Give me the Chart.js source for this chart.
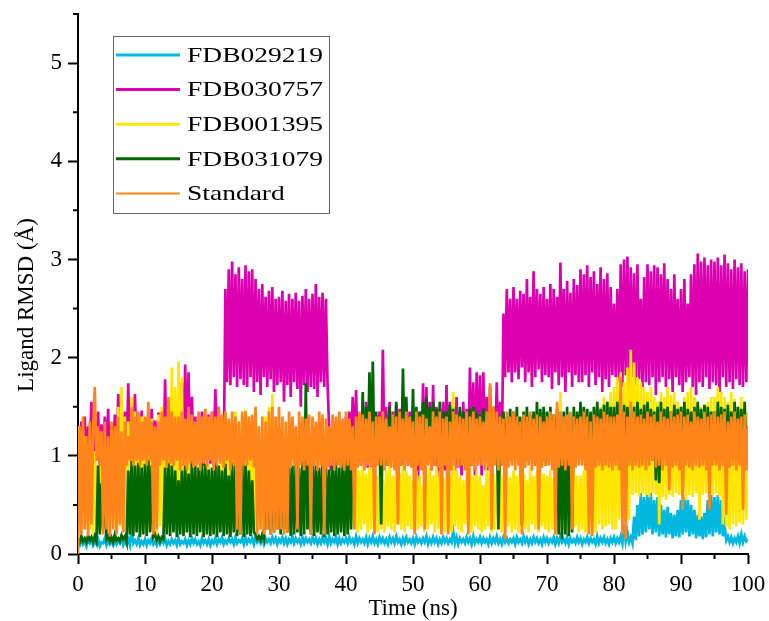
<!DOCTYPE html>
<html>
<head>
<meta charset="utf-8">
<script src="https://cdn.jsdelivr.net/npm/chart.js@4.4.0/dist/chart.umd.min.js"></script>
<style>
  html, body { margin: 0; padding: 0; background: #fff; }
  #wrap { width: 769px; height: 621px; }
</style>
</head>
<body>
<div id="wrap"><canvas id="rmsd" width="769" height="621"></canvas></div>
<script>
const fdb029219 = [
  0.12,0.09,0.15,0.10,0.13,0.08,0.14,0.11,0.16,0.09,0.13,0.10,0.15,0.08,0.12,0.11,0.16,0.09,0.14,0.10,
  0.13,0.09,0.15,0.10,0.14,0.11,0.16,0.09,0.13,0.10,0.15,0.09,0.25,0.11,0.14,0.10,0.16,0.09,0.13,0.10,
  0.15,0.09,0.14,0.11,0.16,0.10,0.13,0.09,0.15,0.10,0.14,0.11,0.16,0.09,0.13,0.10,0.15,0.11,0.14,0.09,
  0.16,0.10,0.13,0.11,0.15,0.09,0.14,0.10,0.16,0.11,0.15,0.10,0.13,0.09,0.16,0.11,0.14,0.10,0.15,0.09,
  0.14,0.11,0.16,0.10,0.15,0.12,0.17,0.10,0.14,0.11,0.16,0.12,0.15,0.10,0.17,0.11,0.14,0.12,0.16,0.10,
  0.17,0.11,0.15,0.12,0.16,0.10,0.18,0.12,0.15,0.11,0.17,0.10,0.16,0.12,0.15,0.11,0.17,0.12,0.16,0.10,
  0.15,0.12,0.17,0.11,0.16,0.10,0.15,0.12,0.18,0.11,0.16,0.12,0.15,0.10,0.17,0.11,0.16,0.12,0.15,0.11,
  0.17,0.12,0.16,0.10,0.15,0.11,0.17,0.12,0.16,0.10,0.18,0.11,0.15,0.12,0.17,0.10,0.16,0.11,0.15,0.12,
  0.16,0.11,0.17,0.12,0.15,0.10,0.18,0.11,0.16,0.12,0.15,0.11,0.17,0.10,0.16,0.12,0.18,0.11,0.15,0.10,
  0.17,0.12,0.16,0.11,0.15,0.10,0.17,0.12,0.16,0.11,0.18,0.12,0.15,0.10,0.16,0.11,0.17,0.12,0.15,0.11,
  0.16,0.10,0.17,0.12,0.15,0.11,0.16,0.12,0.18,0.10,0.15,0.11,0.17,0.12,0.16,0.10,0.15,0.11,0.17,0.12,
  0.16,0.11,0.15,0.12,0.23,0.11,0.17,0.10,0.16,0.12,0.15,0.11,0.17,0.12,0.16,0.10,0.18,0.11,0.15,0.12,
  0.17,0.11,0.16,0.12,0.15,0.10,0.17,0.11,0.16,0.12,0.18,0.11,0.15,0.10,0.17,0.12,0.16,0.11,0.15,0.12,
  0.16,0.10,0.17,0.12,0.15,0.11,0.18,0.12,0.16,0.10,0.15,0.11,0.17,0.12,0.16,0.11,0.15,0.10,0.17,0.12,
  0.16,0.11,0.15,0.12,0.17,0.10,0.16,0.11,0.18,0.12,0.15,0.11,0.17,0.10,0.16,0.12,0.15,0.11,0.17,0.12,
  0.16,0.10,0.15,0.12,0.17,0.11,0.16,0.12,0.15,0.10,0.18,0.11,0.16,0.12,0.17,0.11,0.15,0.10,0.16,0.12,
  0.17,0.11,0.16,0.12,0.18,0.11,0.30,0.13,0.22,0.12,0.17,0.11,0.38,0.14,0.50,0.18,0.62,0.20,0.58,0.22,
  0.60,0.25,0.62,0.20,0.55,0.22,0.58,0.18,0.50,0.20,0.45,0.17,0.48,0.20,0.42,0.16,0.40,0.18,0.45,0.17,
  0.55,0.20,0.58,0.22,0.55,0.18,0.50,0.20,0.45,0.16,0.40,0.18,0.38,0.15,0.42,0.17,0.55,0.20,0.60,0.18,
  0.58,0.22,0.60,0.20,0.55,0.18,0.30,0.14,0.18,0.12,0.17,0.11,0.16,0.12,0.18,0.11,0.20,0.12,0.18,0.13,
  0.15
];
const fdb030757 = [
  1.25,0.85,1.35,0.95,1.40,0.90,1.30,1.00,1.55,0.90,1.38,0.95,1.45,0.88,1.32,1.00,1.40,0.92,1.48,0.86,
  1.30,0.95,1.42,0.90,1.63,0.95,1.35,1.00,1.45,0.92,1.74,0.95,1.40,0.90,1.63,1.00,1.38,0.94,1.46,0.90,
  1.35,0.90,1.42,1.00,1.48,0.92,1.36,0.88,1.44,0.95,1.38,0.90,1.78,0.96,1.45,1.00,1.50,0.92,1.40,0.95,
  1.60,0.90,1.75,1.00,1.93,1.05,1.85,0.95,1.60,1.00,1.40,0.92,1.38,1.00,1.45,0.90,1.35,0.96,1.42,0.92,
  1.45,1.00,1.68,0.95,1.50,1.00,1.40,0.92,2.70,1.75,2.90,1.72,2.98,1.80,2.85,1.70,2.92,1.78,2.80,1.72,
  2.94,1.70,2.88,1.80,2.90,1.65,2.80,1.75,2.70,1.62,2.75,1.80,2.62,1.70,2.68,1.78,2.72,1.65,2.60,1.72,
  2.62,1.75,2.68,1.55,2.58,1.72,2.65,1.60,2.60,1.75,2.66,1.68,2.58,1.50,2.63,1.72,2.70,1.65,2.60,1.70,
  2.65,1.68,2.75,1.60,2.62,1.75,2.66,1.70,2.60,1.72,1.25,0.85,1.30,0.90,1.35,0.95,1.28,0.88,1.35,0.92,
  1.40,0.85,1.45,0.95,1.60,0.90,1.67,0.98,1.42,0.90,1.38,1.00,1.55,0.88,1.45,0.95,1.50,0.90,1.40,1.00,
  1.45,0.92,2.08,1.00,1.50,0.90,1.55,0.95,1.45,0.88,1.52,1.00,1.48,0.92,1.55,0.95,1.40,0.90,1.45,0.96,
  1.30,0.85,1.40,0.75,1.45,0.90,1.74,0.80,1.70,0.95,1.55,0.85,1.72,0.90,1.50,0.78,1.48,0.92,1.55,0.85,
  1.72,0.80,1.55,0.92,1.50,0.75,1.60,0.88,1.45,0.80,1.55,0.92,1.48,0.85,1.90,0.90,1.75,0.80,1.85,0.95,
  1.82,0.80,1.85,0.95,1.60,0.85,1.70,0.90,1.50,1.00,1.75,0.95,1.55,0.90,2.45,1.80,2.70,1.85,2.60,1.75,
  2.72,1.85,2.60,1.78,2.68,1.90,2.65,1.75,2.80,1.85,2.62,1.70,2.88,1.80,2.70,1.88,2.65,1.75,2.72,1.82,
  2.60,1.80,2.75,1.68,2.70,1.85,2.62,1.72,2.97,1.80,2.70,1.65,2.78,1.85,2.66,1.70,2.80,1.82,2.74,1.75,
  2.90,1.75,2.85,1.82,2.94,1.70,2.82,1.85,2.88,1.72,2.75,1.80,2.92,1.65,2.80,1.78,2.86,1.70,2.72,1.82,
  2.55,1.80,2.70,1.75,2.95,1.70,3.00,1.82,3.03,1.68,2.92,1.80,2.86,1.72,2.95,1.78,2.60,1.70,2.82,1.75,
  2.95,1.72,2.88,1.80,2.94,1.62,2.92,1.75,2.85,1.80,2.96,1.70,2.80,1.78,2.70,1.65,2.85,1.80,2.60,1.72,
  2.70,1.65,2.80,1.75,2.55,1.80,2.85,1.70,2.95,1.62,3.06,1.75,2.98,1.70,3.02,1.80,2.94,1.68,3.00,1.75,
  2.98,1.72,3.02,1.65,2.94,1.80,3.05,1.70,2.96,1.75,2.90,1.68,3.00,1.78,2.92,1.72,2.96,1.70,2.88,1.75,
  2.90
];
const fdb001395 = [
  1.30,0.65,1.25,0.60,1.20,0.30,1.10,0.25,0.95,0.20,1.05,0.30,0.90,0.22,1.00,0.25,1.08,0.20,0.95,0.28,
  1.10,0.30,1.25,0.22,1.50,0.28,1.70,0.25,1.40,0.30,1.35,0.22,1.60,0.25,1.45,0.30,1.30,0.22,1.40,0.25,
  1.35,0.22,1.45,0.30,1.38,0.25,1.25,0.20,1.42,0.28,1.50,0.25,1.35,0.22,1.60,0.30,1.90,0.25,1.70,0.22,
  1.96,0.30,1.80,0.25,1.30,0.22,1.05,0.28,0.95,0.25,0.85,0.22,0.90,0.30,0.82,0.25,0.88,0.22,0.92,0.28,
  0.85,0.22,0.95,0.25,0.90,0.30,1.20,0.25,1.40,0.22,1.35,0.28,1.30,0.25,1.45,0.22,1.35,0.30,1.40,0.25,
  1.47,0.30,1.40,0.25,1.25,0.22,1.10,0.28,1.00,0.25,1.15,0.22,1.40,0.30,1.50,0.25,1.63,0.22,1.35,0.28,
  1.20,0.22,0.95,0.25,0.70,0.30,0.85,0.22,0.90,0.25,0.80,0.28,0.75,0.22,0.70,0.25,0.80,0.30,0.75,0.22,
  0.70,0.25,0.85,0.22,0.75,0.28,0.60,0.25,0.80,0.22,0.75,0.30,0.80,0.25,0.70,0.22,0.85,0.28,0.80,0.25,
  0.85,0.22,0.90,0.25,0.80,0.28,0.88,0.22,0.85,0.25,0.90,0.30,0.82,0.22,0.88,0.25,0.90,0.28,0.80,0.22,
  0.80,0.25,0.75,0.22,0.85,0.28,0.90,0.25,0.80,0.22,0.88,0.30,0.82,0.25,0.90,0.22,0.85,0.28,0.80,0.25,
  0.75,0.22,0.85,0.25,0.80,0.28,0.70,0.22,0.82,0.25,0.88,0.30,0.80,0.22,0.90,0.25,0.85,0.28,0.78,0.22,
  0.85,0.25,0.80,0.22,1.65,0.28,0.85,0.25,0.80,0.22,0.75,0.30,0.82,0.25,0.88,0.22,0.80,0.28,0.85,0.25,
  0.80,0.22,0.70,0.25,0.85,0.28,0.90,0.22,0.82,0.25,0.75,0.30,0.88,0.22,0.80,0.25,0.85,0.28,0.78,0.22,
  0.85,0.25,0.80,0.22,0.90,0.28,0.82,0.25,0.75,0.22,0.88,0.30,0.80,0.25,0.85,0.22,0.90,0.28,0.82,0.25,
  0.80,0.22,0.85,0.25,0.78,0.28,0.88,0.22,1.65,0.25,0.82,0.30,0.75,0.22,0.85,0.25,0.90,0.28,0.80,0.22,
  0.80,0.25,0.85,0.22,0.90,0.28,1.20,0.25,1.35,0.22,1.45,0.30,1.50,0.25,1.60,0.28,1.55,0.30,1.65,0.25,
  1.70,0.25,1.80,0.35,1.85,0.40,1.75,0.30,1.90,0.35,2.08,0.60,1.95,0.62,1.80,0.58,1.75,0.62,1.70,0.60,
  1.65,0.58,1.70,0.62,1.60,0.60,1.55,0.30,1.65,0.58,1.60,0.55,1.70,0.60,1.62,0.58,1.65,0.62,1.55,0.60,
  1.50,0.62,1.60,0.55,1.65,0.60,1.70,0.58,1.60,0.62,1.55,0.35,1.50,0.60,1.45,0.62,1.55,0.58,1.60,0.60,
  1.60,0.62,1.70,0.58,1.65,0.30,1.60,0.28,1.55,0.25,1.65,0.30,1.58,0.28,1.50,0.32,1.60,0.30,1.55,0.35,
  1.45
];
const fdb031079 = [
  0.15,0.12,0.18,0.13,0.16,0.12,0.19,0.14,0.17,0.12,0.18,0.13,0.90,0.20,0.72,0.25,0.85,0.15,0.18,0.13,
  0.17,0.12,0.20,0.14,0.16,0.13,0.19,0.15,0.18,0.12,0.85,0.20,0.95,0.18,0.90,0.22,0.93,0.17,0.88,0.20,
  0.92,0.18,0.96,0.22,0.90,0.17,0.20,0.14,0.18,0.13,0.17,0.15,0.88,0.20,0.93,0.18,0.90,0.22,0.85,0.17,
  0.75,0.20,0.85,0.18,0.90,0.22,0.82,0.17,0.95,0.20,0.90,0.18,0.88,0.22,0.93,0.17,0.92,0.20,0.86,0.18,
  0.88,0.20,0.93,0.17,0.90,0.22,0.85,0.18,0.92,0.20,0.80,0.17,0.93,0.22,0.90,0.18,0.86,0.20,0.92,0.17,
  0.90,0.20,0.85,0.18,0.75,0.22,0.20,0.15,0.18,0.14,0.20,0.15,1.10,0.25,1.05,0.20,1.00,0.22,1.15,0.25,
  1.30,0.20,1.10,0.25,1.15,0.22,0.95,0.18,0.90,0.20,0.93,0.22,0.88,0.18,0.95,0.20,1.74,0.25,0.92,0.20,
  0.93,0.18,0.90,0.22,0.88,0.20,0.95,0.17,0.92,0.20,0.86,0.22,0.90,0.18,0.95,0.20,0.88,0.22,0.93,0.18,
  0.95,0.20,1.05,0.25,1.20,0.85,1.35,0.90,1.40,0.95,1.65,0.90,1.50,0.95,1.85,0.92,1.96,0.90,1.45,0.95,
  1.20,0.30,1.45,0.95,1.35,0.90,1.50,1.00,1.40,0.92,1.55,0.95,1.45,0.90,1.89,1.00,1.60,0.95,1.40,0.92,
  1.68,0.90,1.50,1.00,1.45,0.95,1.55,0.90,1.60,1.00,1.50,0.92,1.55,0.95,1.48,0.90,1.55,1.00,1.45,0.95,
  1.45,0.95,1.52,0.90,1.48,1.00,1.40,0.95,1.50,0.90,1.45,1.00,1.42,0.95,1.48,0.90,1.50,0.95,1.45,1.00,
  1.42,1.00,1.48,0.95,1.45,0.90,1.40,1.00,1.50,0.95,1.42,0.25,1.40,0.95,1.45,0.90,1.40,1.00,1.48,0.95,
  1.45,1.00,1.50,0.95,1.40,0.30,1.45,0.95,1.50,1.00,1.42,0.95,1.45,0.90,1.55,1.00,1.48,0.95,1.50,0.90,
  1.45,0.95,1.50,1.00,1.42,0.95,1.48,0.20,1.40,0.15,1.45,0.20,1.50,0.18,1.42,0.22,1.50,0.95,1.45,1.00,
  1.55,1.00,1.50,0.95,1.48,1.00,1.45,0.95,1.50,1.00,1.55,0.95,1.48,1.00,1.52,0.95,1.55,1.00,1.50,0.95,
  1.50,0.95,1.55,1.00,1.48,0.95,1.52,1.00,1.50,0.95,1.45,1.00,1.50,0.95,1.55,1.00,1.48,0.95,1.52,1.00,
  1.55,1.00,1.48,0.95,1.45,0.75,1.50,0.72,1.55,0.95,1.48,1.00,1.50,0.95,1.45,1.00,1.52,0.95,1.48,1.00,
  1.50,1.00,1.55,0.95,1.48,1.00,1.45,0.95,1.50,1.00,1.55,0.95,1.48,1.00,1.52,0.95,1.50,1.00,1.45,0.95,
  1.45,0.95,1.55,1.00,1.50,0.95,1.48,1.00,1.52,0.95,1.45,1.00,1.55,0.95,1.50,1.00,1.48,0.95,1.55,1.00,
  1.30
];
const standard = [
  0.00,1.30,0.20,1.40,0.25,1.20,0.18,1.35,0.30,1.25,1.70,0.95,1.30,0.90,1.25,0.20,1.35,0.25,1.20,0.18,
  1.35,0.25,1.30,0.20,1.40,0.30,1.25,0.22,1.35,0.90,1.20,0.95,1.50,0.90,1.40,0.95,1.45,0.90,1.35,0.95,
  1.40,0.90,1.55,0.95,1.35,0.20,1.30,0.25,1.35,0.90,1.45,0.95,1.40,0.88,1.60,0.92,1.45,0.90,1.40,0.95,
  1.40,0.85,1.45,0.90,1.38,0.85,1.50,0.92,1.42,0.88,1.35,0.90,1.45,0.85,1.40,0.92,1.48,0.88,1.40,0.95,
  1.45,0.85,1.40,0.90,1.50,0.92,1.42,0.88,1.45,0.95,1.38,0.85,1.45,0.90,1.40,0.25,1.35,0.20,1.45,0.90,
  1.45,0.90,1.40,0.95,1.42,0.88,1.50,0.20,1.30,0.25,1.40,0.20,1.35,0.25,1.45,0.20,1.50,0.22,1.40,0.25,
  1.50,0.25,1.40,0.20,1.35,0.22,1.45,0.88,1.40,0.90,1.30,0.25,1.45,0.90,1.40,0.85,1.38,0.90,1.42,0.20,
  1.40,0.90,1.35,0.85,1.45,0.90,1.42,0.20,1.38,0.88,1.30,0.90,1.42,0.85,1.40,0.90,1.45,0.88,1.38,0.85,
  1.45,0.90,1.38,0.85,1.30,0.25,1.40,0.88,1.45,0.90,1.42,0.85,1.38,0.90,1.45,0.88,1.35,0.20,1.40,0.90,
  1.40,0.90,1.45,0.85,1.38,0.90,1.30,0.88,1.42,0.85,1.40,0.30,1.45,0.90,1.38,0.85,1.45,0.90,1.40,0.88,
  1.35,0.20,1.45,0.90,1.40,0.85,1.42,0.25,1.38,0.90,1.30,0.85,1.45,0.90,1.40,0.88,1.45,0.20,1.38,0.90,
  1.40,0.20,1.35,0.85,1.45,0.90,1.42,0.88,1.40,0.90,1.38,0.85,1.45,0.20,1.40,0.90,1.45,0.85,1.38,0.90,
  1.40,0.90,1.35,0.85,1.45,0.88,1.74,0.25,1.50,0.90,1.45,0.85,1.40,0.90,1.38,0.15,1.45,0.88,1.40,0.90,
  1.45,0.85,1.40,0.90,1.35,0.20,1.42,0.88,1.40,0.90,1.45,0.85,1.38,0.90,1.42,0.25,1.40,0.88,1.35,0.90,
  1.40,0.90,1.45,0.85,1.42,0.20,1.55,0.88,1.45,0.90,1.40,0.85,1.42,0.90,1.45,0.25,1.40,0.88,1.38,0.90,
  1.40,0.90,1.45,0.85,1.40,0.20,1.35,0.18,1.42,0.88,1.40,0.90,1.38,0.85,1.45,0.90,1.42,0.88,1.40,0.85,
  1.40,0.90,1.42,0.85,1.80,0.20,1.45,0.15,1.40,0.90,1.55,0.85,1.45,0.90,1.40,0.88,1.42,0.90,1.38,0.85,
  1.45,0.90,1.40,0.95,1.42,0.88,1.35,0.90,1.45,0.85,1.40,0.90,1.38,0.65,1.45,0.88,1.40,0.90,1.42,0.85,
  1.45,0.45,1.40,0.90,1.42,0.88,1.35,0.85,1.45,0.90,1.40,0.88,1.38,0.90,1.45,0.85,1.40,0.45,1.42,0.90,
  1.45,0.90,1.40,0.85,1.42,0.90,1.45,0.40,1.35,0.88,1.40,0.90,1.45,0.85,1.38,0.90,1.40,0.45,1.42,0.85,
  1.30
];

const seriesNames = ['FDB029219', 'FDB030757', 'FDB001395', 'FDB031079', 'Standard'];
const xTicks = [0, 10, 20, 30, 40, 50, 60, 70, 80, 90, 100];
const yTicks = [0, 1, 2, 3, 4, 5];

const colors = ['#00b7e0', '#dd00b1', '#ffe600', '#006600', '#ff841a'];
const FONT = '"Liberation Serif", "Times New Roman", serif';

// frame times (0.25 ns step)
const time = fdb029219.map((_, i) => i * 0.25);
const toXY = arr => arr.map((v, i) => ({ x: time[i], y: v }));

// Origin draws the last series on top -> higher order = drawn earlier
const allSeries = [fdb029219, fdb030757, fdb001395, fdb031079, standard];
const datasets = allSeries.map((arr, i) => ({
  label: seriesNames[i],
  data: toXY(arr),
  borderColor: colors[i],
  backgroundColor: colors[i],
  borderWidth: 2.7,
  pointRadius: 0,
  tension: 0,
  order: allSeries.length - 1 - i
}));

const decor = {
  id: 'decor',
  afterDraw(chart) {
    const { ctx, chartArea: a, scales: { x, y } } = chart;
    ctx.save();

    // minor ticks
    ctx.strokeStyle = '#000';
    ctx.lineWidth = 2;
    ctx.beginPath();
    for (let i = 0; i < xTicks.length - 1; i++) {
      const px = x.getPixelForValue((xTicks[i] + xTicks[i + 1]) / 2);
      ctx.moveTo(px, a.bottom);
      ctx.lineTo(px, a.bottom + 5);
    }
    for (let i = 0; i < yTicks.length; i++) {
      const py = y.getPixelForValue(yTicks[i] + 0.5);
      ctx.moveTo(a.left, py);
      ctx.lineTo(a.left - 5, py);
    }
    ctx.stroke();

    // axis titles
    ctx.fillStyle = '#000';
    ctx.font = '23px ' + FONT;
    ctx.textAlign = 'center';
    ctx.textBaseline = 'middle';
    ctx.fillText('Time (ns)', (a.left + a.right) / 2, 609);
    ctx.save();
    ctx.translate(27, 305);
    ctx.rotate(-Math.PI / 2);
    ctx.fillText('Ligand RMSD (Å)', 0, 0);
    ctx.restore();

    // legend box (text in the source is drawn a bit wide)
    ctx.strokeStyle = '#666';
    ctx.lineWidth = 1;
    ctx.strokeRect(113.5, 36.5, 216, 177);
    ctx.font = '22px ' + FONT;
    ctx.textAlign = 'left';
    chart.data.datasets.forEach((ds, i) => {
      const cy = 55 + i * 34.6;
      ctx.strokeStyle = ds.borderColor;
      ctx.lineWidth = i === 4 ? 2 : 3;
      ctx.beginPath();
      ctx.moveTo(116, cy);
      ctx.lineTo(180, cy);
      ctx.stroke();
      ctx.save();
      ctx.translate(187, cy + 1);
      ctx.scale(1.25, 1);
      ctx.fillStyle = '#000';
      ctx.fillText(ds.label, 0, 0);
      ctx.restore();
    });
    ctx.restore();
  }
};

new Chart(document.getElementById('rmsd'), {
  type: 'line',
  data: { datasets },
  plugins: [decor],
  options: {
    responsive: false,
    animation: false,
    devicePixelRatio: 1,
    layout: { padding: { top: 14, right: 21, left: 0, bottom: 0 } },
    plugins: { legend: { display: false }, tooltip: { enabled: false } },
    scales: {
      x: {
        type: 'linear',
        min: 0,
        max: 100,
        afterFit: s => { s.height = 67; s.paddingLeft = 0; s.paddingRight = 0; },
        afterBuildTicks: s => { s.ticks = xTicks.map(v => ({ value: v })); },
        ticks: {
          color: '#000',
          font: { family: FONT, size: 23 },
          padding: 7,
          maxRotation: 0,
          callback: v => v
        },
        grid: { drawOnChartArea: false, tickLength: 10, tickWidth: 2, tickColor: '#000' },
        border: { color: '#000', width: 2 }
      },
      y: {
        min: 0,
        max: 5.5,
        afterFit: s => { s.width = 78; s.paddingTop = 0; s.paddingBottom = 0; },
        afterBuildTicks: s => { s.ticks = yTicks.map(v => ({ value: v })); },
        ticks: {
          color: '#000',
          font: { family: FONT, size: 23 },
          padding: 6,
          callback: v => v
        },
        grid: { drawOnChartArea: false, tickLength: 10, tickWidth: 2, tickColor: '#000' },
        border: { color: '#000', width: 2 }
      }
    }
  }
});
</script>
</body>
</html>
